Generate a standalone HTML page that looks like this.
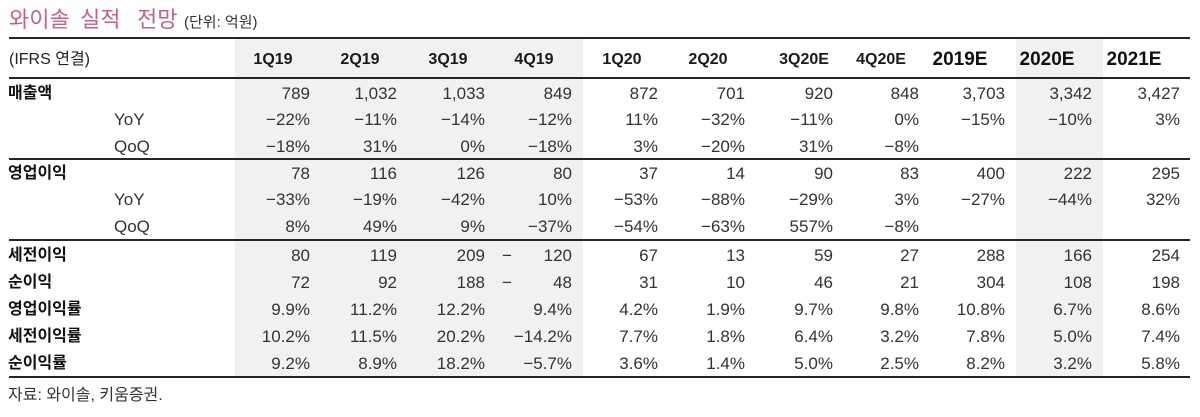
<!DOCTYPE html>
<html>
<head>
<meta charset="utf-8">
<style>
  html, body { margin:0; padding:0; background:#fff; }
  #w { position:relative; width:1200px; height:417px; overflow:hidden; background:#fff;
       font-family:"Liberation Sans","Noto Sans CJK KR",sans-serif; color:#333; }
  .gray { position:absolute; background:#f1f1f1; top:39px; height:337px; }
  .ln { position:absolute; left:9px; width:1181px; height:2px; background:#262626; }
  .r { position:absolute; left:0; width:1200px; height:20px; line-height:20px; font-size:17px; }
  .r span { position:absolute; top:0; white-space:nowrap; }
  .lab { left:8px; font-family:"Liberation Sans","Noto Sans CJK KR",sans-serif; font-weight:bold; font-size:16px; color:#111; }
  .sub { left:114px; font-size:17px; color:#333; }
  .c1{right:890px}.c2{right:803px}.c3{right:715px}.c4{right:628px}.c5{right:542px}
  .c6{right:455px}.c7{right:367px}.c8{right:281px}.c9{right:195px}.c10{right:108px}.c11{right:20px}
  .hd { position:absolute; top:49px; height:22px; line-height:22px; width:90px; text-align:center;
        font-weight:bold; font-size:16px; color:#1a1a1a; }
  .hd.big { font-size:19px; color:#111; }
  .tw { position:absolute; top:6px; font-family:"Liberation Sans","Noto Sans CJK KR",sans-serif;
        font-size:22px; line-height:28px; color:#c4628c; white-space:nowrap; }
</style>
</head>
<body>
<div id="w">
  <!-- title -->
  <div class="tw" style="left:9px">와이솔</div>
  <div class="tw" style="left:80px">실적</div>
  <div class="tw" style="left:137px">전망</div>
  <div style="position:absolute;left:184px;top:11px;font-size:15px;line-height:24px;color:#333;white-space:nowrap;">(단위: 억원)</div>

  <!-- shading -->
  <div class="gray" style="left:235px;width:348px"></div>
  <div class="gray" style="left:1016px;width:87px"></div>

  <!-- lines -->
  <div class="ln" style="top:37px"></div>
  <div class="ln" style="top:77px"></div>
  <div class="ln" style="top:158px"></div>
  <div class="ln" style="top:239px"></div>
  <div class="ln" style="top:376px"></div>

  <!-- header -->
  <div style="position:absolute;left:9px;top:49px;line-height:22px;font-size:16px;color:#222;white-space:nowrap;">(IFRS 연결)</div>
  <div class="hd" style="left:228px">1Q19</div>
  <div class="hd" style="left:315px">2Q19</div>
  <div class="hd" style="left:403px">3Q19</div>
  <div class="hd" style="left:489px">4Q19</div>
  <div class="hd" style="left:577px">1Q20</div>
  <div class="hd" style="left:663px">2Q20</div>
  <div class="hd" style="left:759px">3Q20E</div>
  <div class="hd" style="left:836px">4Q20E</div>
  <div class="hd big" style="left:915px">2019E</div>
  <div class="hd big" style="left:1002px">2020E</div>
  <div class="hd big" style="left:1089px">2021E</div>

  <!-- rows -->
  <div class="r" style="top:84px"><span class="lab">매출액</span>
    <span class="c1">789</span><span class="c2">1,032</span><span class="c3">1,033</span><span class="c4">849</span><span class="c5">872</span><span class="c6">701</span><span class="c7">920</span><span class="c8">848</span><span class="c9">3,703</span><span class="c10">3,342</span><span class="c11">3,427</span></div>
  <div class="r" style="top:110px"><span class="sub">YoY</span>
    <span class="c1">−22%</span><span class="c2">−11%</span><span class="c3">−14%</span><span class="c4">−12%</span><span class="c5">11%</span><span class="c6">−32%</span><span class="c7">−11%</span><span class="c8">0%</span><span class="c9">−15%</span><span class="c10">−10%</span><span class="c11">3%</span></div>
  <div class="r" style="top:137px"><span class="sub">QoQ</span>
    <span class="c1">−18%</span><span class="c2">31%</span><span class="c3">0%</span><span class="c4">−18%</span><span class="c5">3%</span><span class="c6">−20%</span><span class="c7">31%</span><span class="c8">−8%</span></div>

  <div class="r" style="top:164px"><span class="lab">영업이익</span>
    <span class="c1">78</span><span class="c2">116</span><span class="c3">126</span><span class="c4">80</span><span class="c5">37</span><span class="c6">14</span><span class="c7">90</span><span class="c8">83</span><span class="c9">400</span><span class="c10">222</span><span class="c11">295</span></div>
  <div class="r" style="top:190px"><span class="sub">YoY</span>
    <span class="c1">−33%</span><span class="c2">−19%</span><span class="c3">−42%</span><span class="c4">10%</span><span class="c5">−53%</span><span class="c6">−88%</span><span class="c7">−29%</span><span class="c8">3%</span><span class="c9">−27%</span><span class="c10">−44%</span><span class="c11">32%</span></div>
  <div class="r" style="top:217px"><span class="sub">QoQ</span>
    <span class="c1">8%</span><span class="c2">49%</span><span class="c3">9%</span><span class="c4">−37%</span><span class="c5">−54%</span><span class="c6">−63%</span><span class="c7">557%</span><span class="c8">−8%</span></div>

  <div class="r" style="top:246px"><span class="lab">세전이익</span>
    <span class="c1">80</span><span class="c2">119</span><span class="c3">209</span><span style="left:502px">−</span><span class="c4">120</span><span class="c5">67</span><span class="c6">13</span><span class="c7">59</span><span class="c8">27</span><span class="c9">288</span><span class="c10">166</span><span class="c11">254</span></div>
  <div class="r" style="top:273px"><span class="lab">순이익</span>
    <span class="c1">72</span><span class="c2">92</span><span class="c3">188</span><span style="left:502px">−</span><span class="c4">48</span><span class="c5">31</span><span class="c6">10</span><span class="c7">46</span><span class="c8">21</span><span class="c9">304</span><span class="c10">108</span><span class="c11">198</span></div>
  <div class="r" style="top:300px"><span class="lab">영업이익률</span>
    <span class="c1">9.9%</span><span class="c2">11.2%</span><span class="c3">12.2%</span><span class="c4">9.4%</span><span class="c5">4.2%</span><span class="c6">1.9%</span><span class="c7">9.7%</span><span class="c8">9.8%</span><span class="c9">10.8%</span><span class="c10">6.7%</span><span class="c11">8.6%</span></div>
  <div class="r" style="top:327px"><span class="lab">세전이익률</span>
    <span class="c1">10.2%</span><span class="c2">11.5%</span><span class="c3">20.2%</span><span class="c4">−14.2%</span><span class="c5">7.7%</span><span class="c6">1.8%</span><span class="c7">6.4%</span><span class="c8">3.2%</span><span class="c9">7.8%</span><span class="c10">5.0%</span><span class="c11">7.4%</span></div>
  <div class="r" style="top:354px"><span class="lab">순이익률</span>
    <span class="c1">9.2%</span><span class="c2">8.9%</span><span class="c3">18.2%</span><span class="c4">−5.7%</span><span class="c5">3.6%</span><span class="c6">1.4%</span><span class="c7">5.0%</span><span class="c8">2.5%</span><span class="c9">8.2%</span><span class="c10">3.2%</span><span class="c11">5.8%</span></div>

  <!-- source -->
  <div style="position:absolute;left:8px;top:386px;font-size:16px;line-height:20px;color:#333;white-space:nowrap;">자료: 와이솔, 키움증권.</div>
</div>
</body>
</html>
